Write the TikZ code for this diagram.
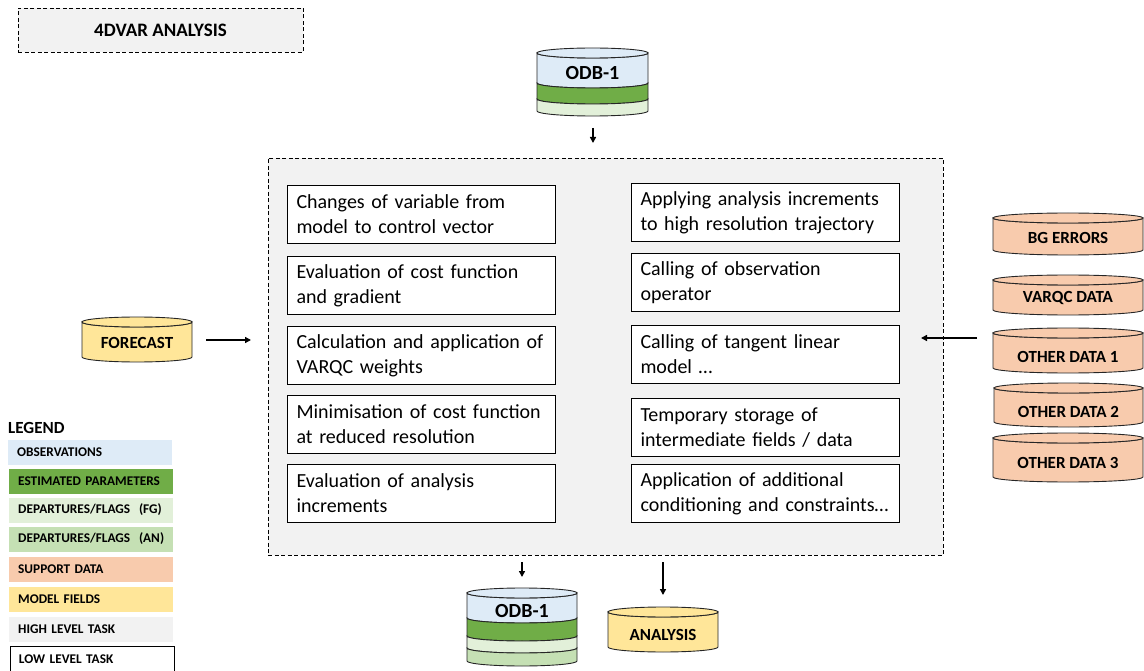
\documentclass[tikz,border=0pt]{standalone}
\usepackage{fontspec}
\setmainfont{Carlito}
\usetikzlibrary{arrows.meta,positioning}

\definecolor{obsblue}{HTML}{DEEBF7}
\definecolor{estgreen}{HTML}{70AD47}
\definecolor{fggreen}{HTML}{E2F0D9}
\definecolor{angreen}{HTML}{C5E0B4}
\definecolor{suppdata}{HTML}{F8CBAD}
\definecolor{modfield}{HTML}{FFE699}
\definecolor{hightask}{HTML}{F2F2F2}

% one slice of a data base drum: centre x, half width, top y, bottom y, colour
\newcommand{\dbband}[5]{\filldraw[rim,fill=#5] (#1-#2,#3) arc[start angle=180,end angle=360,x radius=#2pt,y radius=5pt] -- (#1+#2,#4) arc[start angle=0,end angle=-180,x radius=#2pt,y radius=5pt] -- cycle;}
% the lid on top
\newcommand{\dblid}[4]{\filldraw[rim,fill=#4] (#1,#3) ellipse[x radius=#2pt,y radius=5pt];}

\begin{document}
\begin{tikzpicture}
[x=1pt,y=-1pt,
 rim/.style={draw=black!85,line width=0.9pt},
 task/.style={draw,fill=white,line width=1pt,anchor=north west,text width=250pt,inner xsep=9pt,minimum height=58pt,align=left,font=\fontsize{20}{25}\selectfont},
 dblabel/.style={font=\fontsize{17}{20}\selectfont\bfseries},
 legitem/.style={anchor=west,minimum width=164pt,minimum height=25pt,text width=146pt,inner xsep=9pt,align=left,font=\fontsize{13.3}{15}\selectfont\bfseries},
 flow/.style={line width=1.5pt,-{Triangle[length=6pt,width=6pt]}}]

\useasboundingbox (0,0) rectangle (1144,671);

% title
\node[draw,dashed,dash pattern=on 4pt off 2.5pt,fill=hightask,minimum width=285pt,minimum height=44pt,font=\fontsize{19}{22}\selectfont\bfseries] (title) at (160.5,30) {4DVAR ANALYSIS};

% high level task
\node[draw,dash pattern=on 4pt off 2.5pt,fill=hightask,line width=0.8pt,minimum width=675pt,minimum height=397pt] (main) at (605.5,356.5) {};

\node[task] (t1) at (287,185) {Changes of variable from\\model to control vector};
\node[task] (t2) at (287,256) {Evaluation of cost function\\and gradient};
\node[task] (t3) at (287,326) {Calculation and application of\\VARQC weights};
\node[task] (t4) at (287,395) {Minimisation of cost function\\at reduced resolution};
\node[task] (t5) at (287,464) {Evaluation of analysis\\increments};

\node[task] (t6) at (631,183) {Applying analysis increments\\to high resolution trajectory};
\node[task] (t7) at (631,253) {Calling of observation\\operator};
\node[task] (t8) at (631,325) {Calling of tangent linear\\model \ldots};
\node[task] (t9) at (631,398) {Temporary storage of\\intermediate fields / data};
\node[task] (t10) at (631,464) {Application of additional\\conditioning and constraints\ldots};

% input ODB
\dbband{592.5}{55.5}{53}{83}{obsblue}
\dbband{592.5}{55.5}{83}{99}{estgreen}
\dbband{592.5}{55.5}{99}{111}{fggreen}
\dblid{592.5}{55.5}{53}{obsblue}
\node[dblabel,font=\fontsize{20}{22}\selectfont\bfseries] (odbin) at (592.5,73) {ODB-1};

\coordinate (odbinA) at (593,128);
\coordinate (odbinB) at (593,143);
\draw[flow] (odbinA) -- (odbinB);

% forecast
\dbband{137}{55}{322}{357}{modfield}
\dblid{137}{55}{322}{modfield}
\node[dblabel] (fc) at (137,343) {FORECAST};
\coordinate (fcA) at (206,340);
\coordinate (fcB) at (251,340);
\draw[flow] (fcA) -- (fcB);

% support data
\dbband{1068}{75}{218}{250}{suppdata}
\dblid{1068}{75}{218}{suppdata}
\node[dblabel] (bgerr) at (1068,238) {BG ERRORS};
\dbband{1068}{75}{280}{310}{suppdata}
\dblid{1068}{75}{280}{suppdata}
\node[dblabel] (varqc) at (1068,298) {VARQC DATA};
\dbband{1068}{75}{333}{368}{suppdata}
\dblid{1068}{75}{333}{suppdata}
\node[dblabel] (oth1) at (1068,357) {OTHER DATA 1};
\dbband{1068.5}{74.5}{388}{422}{suppdata}
\dblid{1068.5}{74.5}{388}{suppdata}
\node[dblabel] (oth2) at (1068.5,412) {OTHER DATA 2};
\dbband{1068}{75}{438}{477}{suppdata}
\dblid{1068}{75}{438}{suppdata}
\node[dblabel] (oth3) at (1068,463) {OTHER DATA 3};

\coordinate (suppA) at (977,338);
\coordinate (suppB) at (921,338);
\draw[flow] (suppA) -- (suppB);

% outputs
\coordinate (odboutA) at (522,562);
\coordinate (odboutB) at (522,577);
\draw[flow] (odboutA) -- (odboutB);
\coordinate (anA) at (663,562);
\coordinate (anB) at (663,595);
\draw[flow,line width=2pt] (anA) -- (anB);

\dbband{522}{55}{593}{618}{obsblue}
\dbband{522}{55}{618}{636}{estgreen}
\dbband{522}{55}{636}{648}{fggreen}
\dbband{522}{55}{648}{661}{angreen}
\dblid{522}{55}{593}{obsblue}
\node[dblabel,font=\fontsize{20}{22}\selectfont\bfseries] (odbout) at (522,611) {ODB-1};

\dbband{663}{55}{612}{647}{modfield}
\dblid{663}{55}{612}{modfield}
\node[dblabel] (anal) at (663,635) {ANALYSIS};

% legend
\node[anchor=west,inner sep=0pt,font=\fontsize{17}{20}\selectfont\bfseries] (leg) at (8,428) {LEGEND};
\node[legitem,fill=obsblue] (l1) at (8,452.5) {OBSERVATIONS};
\node[legitem,fill=estgreen] (l2) at (9,481) {ESTIMATED PARAMETERS};
\node[legitem,fill=fggreen] (l3) at (9,510) {DEPARTURES/FLAGS~ (FG)};
\node[legitem,fill=angreen] (l4) at (9,539) {DEPARTURES/FLAGS~ (AN)};
\node[legitem,fill=suppdata] (l5) at (9,569) {SUPPORT DATA};
\node[legitem,fill=modfield] (l6) at (9,599.5) {MODEL FIELDS};
\node[legitem,fill=hightask] (l7) at (9,629.5) {HIGH LEVEL TASK};
\node[legitem,draw,line width=0.9pt] (l8) at (9.5,659) {LOW LEVEL TASK};
\end{tikzpicture}
\end{document}
